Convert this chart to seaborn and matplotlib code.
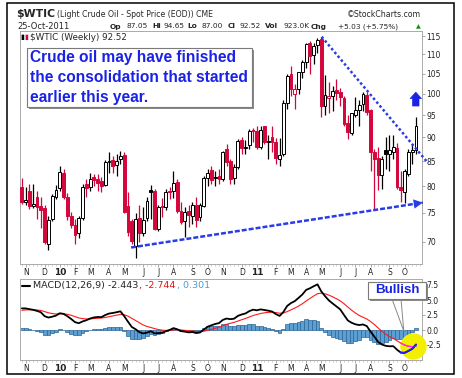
import numpy as np
import pandas as pd
import matplotlib
matplotlib.use("Agg")
import matplotlib.pyplot as plt
import matplotlib.ticker as mticker
from matplotlib.patches import Rectangle, Polygon
from matplotlib.lines import Line2D
import seaborn as sns

# $WTIC weekly bars, first bar is the week of 26-Oct-2009
FIRST_WEEK = "2009-10-26"

OPEN = [79.8, 77.0, 79.0, 76.3, 78.0, 76.2, 75.9, 69.6, 74.0, 78.0,
        79.6, 82.7, 78.0, 74.5, 72.9, 71.5, 74.1, 80.4, 79.8, 81.8,
        81.4, 81.0, 80.3, 84.9, 85.3, 84.3, 85.5, 86.3, 76.2, 73.5,
        69.2, 74.1, 71.5, 74.1, 79.3, 79.0, 72.2, 76.3, 76.0, 79.0,
        79.0, 80.9, 75.3, 73.6, 75.3, 74.5, 76.5, 74.2, 76.3, 81.6,
        83.2, 81.9, 82.0, 81.4, 87.5, 85.0, 81.6, 83.8, 89.4, 87.8,
        88.3, 91.6, 91.4, 88.0, 92.5, 89.1, 90.2, 89.1, 85.4, 86.5,
        97.9, 104.8, 100.0, 101.1, 105.4, 108.0, 113.2, 109.9, 112.5, 114.3,
        97.1, 98.9, 99.5, 100.9, 100.5, 98.9, 93.3, 91.0, 95.0, 96.2,
        97.6, 99.7, 96.2, 86.9, 85.6, 82.3, 87.3, 86.5, 87.0, 87.8,
        79.9, 78.9, 82.5, 86.9, 87.4]
HIGH = [81.6, 79.8, 80.5, 80.4, 79.0, 78.0, 76.4, 74.5, 78.5, 80.3,
        83.95, 83.5, 78.7, 75.2, 74.0, 74.5, 80.5, 81.5, 82.6, 82.5,
        82.4, 81.8, 85.2, 87.0, 86.0, 86.5, 87.2, 87.0, 78.9, 74.0,
        75.0, 76.5, 76.0, 78.0, 80.3, 79.5, 76.5, 77.8, 79.5, 79.8,
        83.0, 81.5, 77.0, 76.0, 76.5, 77.0, 78.0, 76.8, 82.0, 83.5,
        84.0, 83.0, 83.5, 87.2, 88.6, 85.5, 84.5, 89.6, 90.0, 89.5,
        91.8, 92.0, 92.5, 92.6, 92.6, 90.5, 92.5, 89.8, 89.8, 98.5,
        104.8, 106.95, 102.5, 105.5, 108.5, 113.0, 113.5, 113.0, 114.5, 114.83,
        104.6, 103.0, 102.0, 103.7, 101.5, 99.5, 95.0, 95.5, 99.3, 98.5,
        100.5, 100.5, 96.5, 87.5, 88.0, 86.0, 90.1, 90.5, 90.5, 88.8,
        83.0, 83.5, 87.5, 88.5, 94.65]
LOW = [76.6, 76.5, 75.8, 75.9, 74.0, 72.4, 69.5, 68.6, 73.5, 77.5,
       79.0, 77.5, 73.8, 72.4, 69.5, 70.6, 73.8, 78.0, 79.0, 80.0,
       79.1, 78.9, 80.0, 82.6, 82.6, 82.0, 84.5, 75.0, 71.0, 69.5,
       67.2, 69.9, 71.0, 73.5, 74.0, 72.0, 71.8, 74.3, 75.5, 77.5,
       77.8, 75.0, 73.0, 70.8, 72.5, 73.0, 72.5, 73.5, 76.0, 80.0,
       80.5, 80.0, 80.5, 81.0, 84.0, 80.5, 80.5, 83.5, 86.5, 86.5,
       87.5, 89.0, 87.5, 87.5, 88.5, 85.5, 87.0, 84.5, 84.0, 86.0,
       96.5, 99.5, 96.3, 100.0, 104.0, 106.5, 104.8, 107.5, 110.5, 94.63,
       95.1, 95.5, 96.0, 98.5, 97.0, 92.5, 89.7, 90.5, 94.5, 92.5,
       96.0, 95.0, 83.0, 75.7, 79.3, 79.5, 83.5, 83.0, 85.5, 79.5,
       77.0, 76.8, 82.0, 84.5, 86.5]
CLOSE = [77.00, 77.43, 76.35, 76.72, 76.05, 75.47, 69.87, 73.80, 78.05, 79.36,
         82.75, 78.00, 74.54, 72.89, 71.19, 74.13, 79.81, 79.66, 81.50, 81.24,
         80.68, 80.00, 84.87, 84.92, 84.10, 85.12, 86.15, 75.11, 71.61, 70.04,
         73.97, 71.51, 73.78, 77.18, 78.86, 72.14, 76.09, 76.01, 78.98, 78.95,
         80.70, 75.39, 73.46, 75.17, 74.60, 76.45, 73.66, 76.49, 81.58, 82.66,
         81.25, 81.69, 81.43, 86.85, 84.88, 81.51, 83.76, 89.19, 87.79, 88.02,
         91.51, 91.38, 88.03, 91.54, 89.11, 89.34, 89.03, 85.58, 86.20, 97.88,
         104.42, 101.16, 101.07, 105.40, 107.94, 112.79, 109.66, 112.29, 113.93, 97.18,
         99.65, 99.49, 100.59, 100.22, 99.29, 93.01, 91.16, 95.42, 96.20, 97.24,
         99.87, 95.70, 86.88, 85.38, 82.26, 85.37, 86.45, 87.24, 87.96, 79.85,
         79.20, 82.98, 86.80, 87.40, 92.52]

MONTH_LABELS = ["N", "D", "10", "F", "M", "A", "M", "J", "J", "A", "S", "O",
                "N", "D", "11", "F", "M", "A", "M", "J", "J", "A", "S", "O"]
PRICE_TICKS = [70, 75, 80, 85, 90, 95, 100, 105, 110, 115]
MACD_TICKS = [-2.5, 0.0, 2.5, 5.0, 7.5]
MACD_TICK_LABELS = ["-2.5", "0.0", "2.5", "5.0", "7.5"]
# EMA12, EMA26 and signal carried in from before the first bar
MACD_SEED = [73.6, 70.0, 3.2]

# hand drawn trendlines as (bar number, price)
SUPPORT = [(28.8, 69.0), (105.8, 76.9)]
RESISTANCE = [(79.1, 114.8), (107.2, 84.6)]
HIGHLIGHT = (103.1, -2.6)   # yellow spot on the MACD crossover

W, H = 462, 378
RED = "#d4063c"
BLUE = "#1a22e6"
LINE_BLUE = "#2a3be8"

sns.set_theme(style="white")
plt.rcParams["font.family"] = ["DejaVu Sans"]


def fx(x):
    return x / W


def fy(y):
    return 1 - y / H


fig = plt.figure(figsize=(W / 100, H / 100), dpi=100)
fig.patch.set_facecolor("white")
ax = fig.add_axes([fx(20), fy(264), (421.7 - 20) / W, (264 - 31) / H])
axm = fig.add_axes([fx(20), fy(360), (421.7 - 20) / W, (360 - 279) / H])

o, hi, lo, c = (np.array(a, float) for a in (OPEN, HIGH, LOW, CLOSE))
n = len(c)
xk = np.arange(n)

# StockCharts colouring: red if close below previous close, filled if close below open
prev = np.r_[o[0], c[:-1]]
col = np.where(c < prev, RED, "black")
face = np.where(c < o, col, "white")
ax.vlines(xk, lo, hi, colors=col, linewidth=0.9, zorder=2)
ax.bar(xk, np.maximum(np.abs(c - o), 0.12), bottom=np.minimum(o, c), width=0.75,
       color=face, edgecolor=col, linewidth=0.7, zorder=3)
ax.set_yscale("log")
ax.set_ylim(66.3, 116.4)
ax.set_xlim(-0.5, 105.5)
ax.yaxis.set_major_locator(mticker.FixedLocator(PRICE_TICKS))
ax.yaxis.set_major_formatter(mticker.FixedFormatter([str(t) for t in PRICE_TICKS]))
ax.yaxis.set_minor_locator(mticker.NullLocator())

# trendlines
ax.plot(*zip(*SUPPORT), color=LINE_BLUE, lw=1.8, ls=(0, (2, 0.8)), clip_on=False, zorder=5)
ax.annotate("", xy=SUPPORT[1], xytext=SUPPORT[0], annotation_clip=False,
            arrowprops=dict(arrowstyle="-|>,head_length=0.55,head_width=0.28", lw=0,
                            color=LINE_BLUE, mutation_scale=12, shrinkA=0, shrinkB=0))
ax.plot(*zip(*RESISTANCE), color=LINE_BLUE, lw=1.8, ls=(0, (1, 1)), clip_on=False, zorder=5)

# MACD(12,26,9)
e12, e26, sig = MACD_SEED
macd, signal = [], []
for p in c:
    e12 += 2 / 13 * (p - e12)
    e26 += 2 / 27 * (p - e26)
    m = e12 - e26
    sig += 2 / 10 * (m - sig)
    macd.append(m)
    signal.append(sig)
macd = np.array(macd)
signal = np.array(signal)
hist = macd - signal

axm.bar(xk, hist, width=1.0, color="#5b9fd3", edgecolor="#2d6496", linewidth=0.5, zorder=2)
axm.scatter([HIGHLIGHT[0]], [HIGHLIGHT[1]], s=360, color="#f2f000", linewidths=0,
            zorder=3, clip_on=False)
sns.lineplot(x=xk, y=signal, ax=axm, color="#ff1a1a", lw=0.8, zorder=4)
sns.lineplot(x=xk, y=macd, ax=axm, color="black", lw=1.3, zorder=5)
last = slice(100, n)
axm.plot(xk[last], signal[last], color="#ff22ff", lw=0.9, zorder=6)
axm.plot(xk[last], macd[last], color="#2020ff", lw=1.3, zorder=7)
axm.set_xlim(-0.5, 105.5)
axm.set_ylim(-5.0, 8.5)
axm.yaxis.set_major_locator(mticker.FixedLocator(MACD_TICKS))
axm.yaxis.set_major_formatter(mticker.FixedFormatter(MACD_TICK_LABELS))

weeks = pd.date_range(FIRST_WEEK, periods=n, freq="7D")
month_pos = [k for k in range(1, n) if weeks[k].month != weeks[k - 1].month]
for a in (ax, axm):
    a.set_xticks(month_pos)
    a.set_xticklabels(MONTH_LABELS)
    a.xaxis.set_minor_locator(mticker.MultipleLocator(1))
    a.tick_params(axis="x", which="major", bottom=True, length=2, width=0.6, color="#999999",
                  pad=1.2, labelsize=5.5, labelcolor="#222222")
    a.tick_params(axis="x", which="minor", bottom=True, length=1.2, width=0.5, color="#bbbbbb")
    a.tick_params(axis="y", which="major", left=False, right=True, labelleft=False,
                  labelright=True, length=2, width=0.6, color="#999999", pad=1.5,
                  labelsize=5.5, labelcolor="#222222")
    for lab in a.get_xticklabels():
        if lab.get_text() in ("10", "11"):
            lab.set_fontweight("bold")
            lab.set_fontsize(6.5)
    for sp in a.spines.values():
        sp.set_color("#aaaaaa")
        sp.set_linewidth(0.7)
    a.set_xlabel("")
    a.set_ylabel("")

# header
fig.text(fx(16.5), fy(14), "$WTIC", fontsize=7.8, fontweight="bold", va="center")
fig.text(fx(57), fy(14.5), "(Light Crude Oil - Spot Price (EOD)) CME", fontsize=5.6, va="center")
fig.text(fx(421), fy(14.5), "\u00a9StockCharts.com", fontsize=5.6, va="center", ha="right")
fig.text(fx(17), fy(26.5), "25-Oct-2011", fontsize=6, va="center")
quote = [("Op", 109.3, "bold"), ("87.05", 126.7, "normal"), ("Hi", 152.3, "bold"),
         ("94.65", 163.3, "normal"), ("Lo", 187.3, "bold"), ("87.00", 201.7, "normal"),
         ("Cl", 227.7, "bold"), ("92.52", 239.3, "normal"), ("Vol", 265, "bold"),
         ("923.0K", 283.3, "normal"), ("Chg", 311, "bold"), ("+5.03 (+5.75%)", 338.3, "normal")]
for s, x, w in quote:
    fig.text(fx(x), fy(26.5), s, fontsize=5.3, fontweight=w, va="center")
fig.text(fx(415.5), fy(26.5), "\u25b2", fontsize=4.5, color="#109010", va="center")

# panel legends
fig.text(fx(20.5), fy(37.5), "\u25ae", fontsize=5, color="black", va="center")
fig.text(fx(24), fy(37.5), "\u25ae", fontsize=5, color=RED, va="center")
fig.text(fx(30), fy(37.5), "$WTIC (Weekly) 92.52", fontsize=6.3, va="center")
fig.add_artist(Line2D([fx(22), fx(30)], [fy(285.5)] * 2, color="black", lw=1.5,
                      transform=fig.transFigure))
fig.text(fx(33), fy(285.5), "MACD(12,26,9) -2.443", fontsize=6.8, va="center")
fig.text(fx(139), fy(285.5), ", -2.744", fontsize=6.8, color="#e81010", va="center")
fig.text(fx(177), fy(285.5), ", 0.301", fontsize=6.8, color="#4a9bd6", va="center")

# comment box
fig.add_artist(Rectangle((fx(29), fy(109)), 225 / W, 59 / H, fc="#8a8a8a", ec="none",
                         transform=fig.transFigure))
fig.add_artist(Rectangle((fx(27), fy(107)), 225 / W, 59 / H, fc="white", ec="#7a7a7a",
                         lw=0.8, transform=fig.transFigure))
for s, y in [("Crude oil may have finished", 57.5), ("the consolidation that started", 77.5),
             ("earlier this year.", 97.3)]:
    fig.text(fx(30), fy(y), s, fontsize=11.2, fontweight="bold", color=BLUE, va="center",
             family=["Liberation Sans", "DejaVu Sans"])

# blue up arrow
arrow = [(415.8, 92.2), (421.5, 98.6), (419.0, 98.6), (419.0, 106.0),
         (412.6, 106.0), (412.6, 98.6), (410.1, 98.6)]
fig.add_artist(Polygon([(fx(x), fy(y)) for x, y in arrow], closed=True, fc=BLUE, ec=BLUE,
                       lw=0.5, transform=fig.transFigure))

# Bullish callout
fig.add_artist(Polygon([(fx(392), fy(299)), (fx(401), fy(299)), (fx(403.8), fy(331))],
                       closed=True, fc="white", ec="#888888", lw=0.7, transform=fig.transFigure))
fig.add_artist(Rectangle((fx(369.7), fy(301.3)), 58.3 / W, 17.6 / H, fc="#8a8a8a", ec="none",
                         transform=fig.transFigure))
fig.add_artist(Rectangle((fx(367.7), fy(299.3)), 58.3 / W, 17.6 / H, fc="white", ec="#7a7a7a",
                         lw=0.8, transform=fig.transFigure))
fig.text(fx(397), fy(290.3), "Bullish", fontsize=9.6, fontweight="bold", color=BLUE,
         ha="center", va="center", family=["Liberation Sans", "DejaVu Sans"])

# outer frame
fig.add_artist(Rectangle((fx(6.5), fy(373.5)), (454 - 6.5) / W, (373.5 - 2.5) / H, fill=False,
                         ec="black", lw=1.1, transform=fig.transFigure))

fig.savefig("out.png", dpi=100)
